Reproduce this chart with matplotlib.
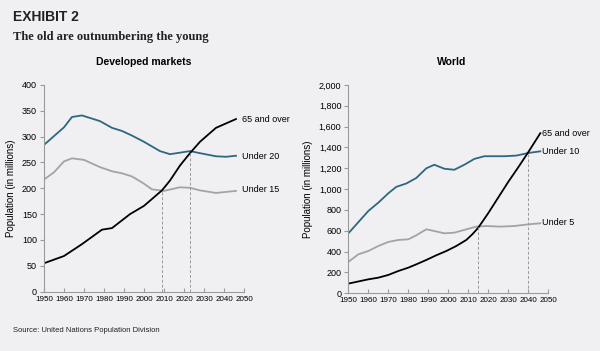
import matplotlib.pyplot as plt

# Developed markets (millions)
dev_years_u20 = [1950, 1960, 1964, 1969, 1978, 1984, 1989, 1994, 2000, 2008, 2013, 2018, 2023, 2028, 2036, 2041, 2046]
dev_under20 = [284, 318, 338, 341, 330, 317, 311, 302, 290, 272, 266, 269, 272, 268, 262, 261, 263]
dev_years_u15 = [1950, 1955, 1960, 1964, 1970, 1978, 1984, 1989, 1994, 2000, 2004, 2010, 2018, 2023, 2028, 2036, 2046]
dev_under15 = [217, 231, 252, 258, 255, 241, 233, 229, 223, 209, 198, 195, 202, 201, 196, 191, 195]
dev_years_65 = [1950, 1960, 1969, 1979, 1984, 1993, 2000, 2009, 2013, 2018, 2023, 2028, 2036, 2046]
dev_65over = [55, 69, 92, 120, 123, 150, 166, 196, 215, 244, 268, 290, 317, 334]
dev_cross = [2009, 2023]

# World (millions)
w_years_u10 = [1950, 1960, 1965, 1970, 1974, 1979, 1984, 1989, 1993, 1998, 2003, 2008, 2013, 2018, 2028, 2034, 2040, 2046]
w_under10 = [575, 790, 870, 960, 1022, 1054, 1107, 1200, 1234, 1196, 1186, 1234, 1290, 1316, 1316, 1322, 1347, 1363]
w_years_u5 = [1950, 1955, 1960, 1965, 1970, 1975, 1980, 1984, 1989, 1993, 1998, 2003, 2009, 2014, 2019, 2026, 2033, 2040, 2046]
w_under5 = [301, 374, 406, 454, 493, 512, 518, 557, 614, 598, 576, 582, 614, 640, 646, 640, 646, 662, 672]
w_years_65 = [1950, 1960, 1965, 1970, 1975, 1980, 1984, 1989, 1994, 1999, 2004, 2009, 2012, 2015, 2020, 2025, 2030, 2035, 2040, 2046]
w_65over = [93, 134, 150, 176, 214, 246, 278, 320, 365, 406, 454, 512, 566, 630, 770, 920, 1070, 1210, 1355, 1537]
w_cross = [2015, 2040]

year_ticks = list(range(1950, 2051, 10))

BG = '#f0f0f2'
TEAL = '#2e6780'
GRAY = '#a3a3a3'
AXC = '#9a9a9a'
SANS = 'Liberation Sans'
XS = 5.8   # year labels, kept small so they don't run together
TS = 6.5

fig = plt.figure(figsize=(6, 3.51), dpi=100, facecolor=BG)


def style_axes(ax, ymax, ystep, fmt):
    ax.set_facecolor(BG)
    ax.set_xlim(1950, 2050)
    ax.set_ylim(0, ymax)
    for s in ['top', 'right']:
        ax.spines[s].set_visible(False)
    for s in ['left', 'bottom']:
        ax.spines[s].set_color(AXC)
        ax.spines[s].set_linewidth(0.8)
    ax.set_xticks(year_ticks)
    ax.set_xticklabels([str(y) for y in year_ticks], fontsize=XS, family=SANS)
    yt = list(range(0, ymax + 1, ystep))
    ax.set_yticks(yt)
    ax.set_yticklabels([fmt(v) for v in yt], fontsize=TS, family=SANS)
    ax.tick_params(axis='x', direction='in', length=3, color=AXC, pad=3)
    ax.tick_params(axis='y', direction='out', length=3, color=AXC, pad=2)
    ax.set_ylabel('Population (in millions)', fontsize=7, labelpad=4, family=SANS)


# Developed markets
ax1 = fig.add_axes([0.0733, 0.169, 0.3333, 0.589])
style_axes(ax1, 400, 50, lambda v: f'{v}')
ax1.plot(dev_years_u20, dev_under20, color=TEAL, lw=1.3)
ax1.plot(dev_years_u15, dev_under15, color=GRAY, lw=1.3)
ax1.plot(dev_years_65, dev_65over, color='black', lw=1.3)
ax1.vlines(dev_cross[0], 0, 196, colors=AXC, linestyles=(0, (3, 2)), lw=0.7)
ax1.vlines(dev_cross[1], 0, 270, colors=AXC, linestyles=(0, (3, 2)), lw=0.7)
ax1.text(2049, 333, '65 and over', fontsize=TS, va='center', family=SANS)
ax1.text(2049, 262, 'Under 20', fontsize=TS, va='center', family=SANS)
ax1.text(2049, 197, 'Under 15', fontsize=TS, va='center', family=SANS)

# World
ax2 = fig.add_axes([0.5805, 0.1644, 0.3333, 0.5935])
style_axes(ax2, 2000, 200, lambda v: f'{v:,}')
ax2.plot(w_years_u10, w_under10, color=TEAL, lw=1.3)
ax2.plot(w_years_u5, w_under5, color=GRAY, lw=1.3)
ax2.plot(w_years_65, w_65over, color='black', lw=1.3)
ax2.vlines(w_cross[0], 0, 635, colors=AXC, linestyles=(0, (3, 2)), lw=0.7)
ax2.vlines(w_cross[1], 0, 1345, colors=AXC, linestyles=(0, (3, 2)), lw=0.7)
ax2.text(2047, 1530, '65 and over', fontsize=TS, va='center', family=SANS)
ax2.text(2047, 1365, 'Under 10', fontsize=TS, va='center', family=SANS)
ax2.text(2047, 680, 'Under 5', fontsize=TS, va='center', family=SANS)

# Titles and notes
fig.text(13 / 600, 1 - 17 / 351, 'EXHIBIT 2', fontsize=10, fontweight='bold',
         va='center', color='#222222', family=SANS)
fig.text(13 / 600, 1 - 37 / 351, 'The old are outnumbering the young',
         fontfamily=['Liberation Serif', 'DejaVu Serif'], fontsize=9,
         fontweight='bold', va='center', color='#222222')
fig.text(144 / 600, 1 - 62 / 351, 'Developed markets', fontsize=7.5,
         fontweight='bold', ha='center', va='center', family=SANS)
fig.text(452 / 600, 1 - 62 / 351, 'World', fontsize=7.5,
         fontweight='bold', ha='center', va='center', family=SANS)
fig.text(13 / 600, 1 - 331 / 351, 'Source: United Nations Population Division',
         fontsize=5.5, va='center', color='#222222', family=SANS)

fig.savefig('out.png', dpi=100, facecolor=BG)
